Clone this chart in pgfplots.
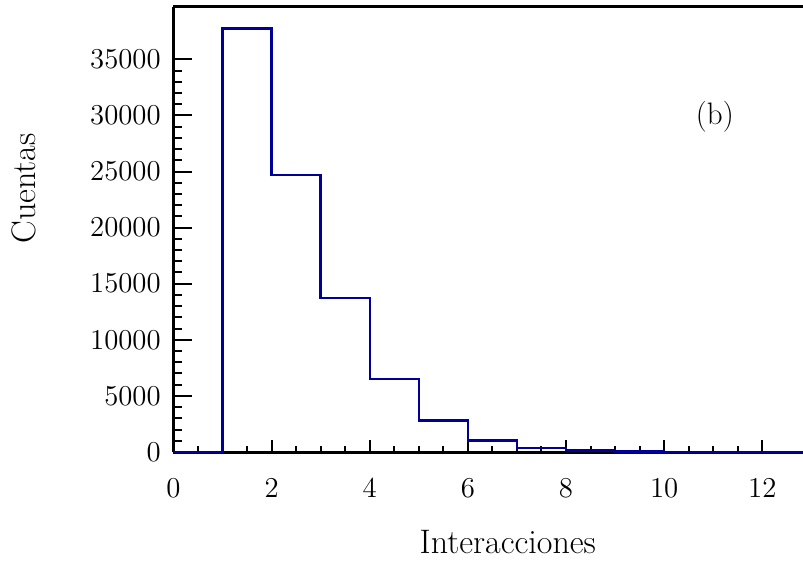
\documentclass[border=0pt]{standalone}
\usepackage{pgfplots}
\pgfplotsset{compat=1.18}
\definecolor{histblue}{RGB}{0,0,153}
\begin{document}
\begin{tikzpicture}
\begin{axis}[
  name=ax,
  scale only axis,
  width=314.75pt, height=222.65pt,
  xmin=0, xmax=12.83, ymin=0, ymax=39690,
  axis x line*=box, axis y line*=left,
  axis line style={line width=1.5pt},
  xtick={0,2,...,12}, ytick={0,5000,...,35000},
  minor x tick num=3, minor y tick num=4,
  xtick pos=left, ytick pos=left,
  tick align=inside,
  every tick/.style={black, line width=1pt},
  major tick length=9pt, minor tick length=4.5pt,
  xtick style={/pgfplots/major tick length=6pt, /pgfplots/minor tick length=3pt},
  scaled y ticks=false,
  /pgf/number format/set thousands separator={},
  tick label style={font=\fontsize{13.3}{16}\selectfont},
  xticklabel style={yshift=-10.1pt},
  yticklabel style={xshift=-2.85pt},
  label style={font=\fontsize{17}{20}\selectfont},
  xlabel={Interacciones},
  xlabel style={at={(rel axis cs:0.531,0)}, anchor=base, yshift=-50.5pt},
  ylabel={Cuentas},
  ylabel style={at={([xshift=-75pt]rel axis cs:0,0.592)}, anchor=center},
  clip=true,
]
\addplot[const plot, histblue, line width=1.2pt] coordinates {
  (0,0) (1,37763) (2,24690) (3,13725) (4,6506) (5,2790) (6,1040) (7,380)
  (8,140) (9,50) (10,18) (11,6) (12,2) (13,1) (14,0)
};
\node[font=\fontsize{15.5}{18}\selectfont] at (rel axis cs:0.860,0.752) {(b)};
\end{axis}
\pgfresetboundingbox
\path ([xshift=-86.75pt, yshift=-55pt]ax.south west) rectangle ([yshift=3.35pt]ax.north east);
\end{tikzpicture}
\end{document}
